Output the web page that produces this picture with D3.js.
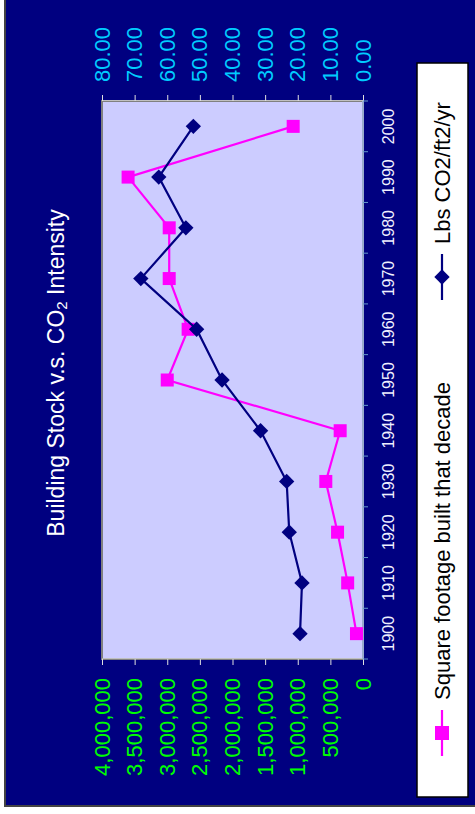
<!DOCTYPE html>
<html>
<head>
<meta charset="utf-8">
<script src="https://cdn.jsdelivr.net/npm/d3@7"></script>
<style>
  html, body { margin: 0; padding: 0; background: #fff; }
  svg { display: block; font-family: "Liberation Sans", Arial, sans-serif; }
</style>
</head>
<body>
<svg id="chart" width="475" height="814"></svg>
<script>
// data
var years = [1900, 1910, 1920, 1930, 1940, 1950, 1960, 1970, 1980, 1990, 2000];
var sqft = [100000, 235000, 390000, 570000, 350000, 3000000, 2680000, 2970000, 2970000, 3600000, 1070000];
var co2 = [19.3, 18.7, 22.6, 23.4, 31.4, 43.2, 51.0, 68.1, 54.3, 62.6, 52.0];
var sqftTicks = [0, 500000, 1000000, 1500000, 2000000, 2500000, 3000000, 3500000, 4000000];
var co2Ticks = [0, 10, 20, 30, 40, 50, 60, 70, 80];

var W = 814, H = 475;
var svg = d3.select("#chart");

// the whole chart is turned on its side
var g = svg.append("g").attr("transform", "translate(0," + W + ") rotate(-90)");

// chart background
g.append("rect")
    .attr("x", 8).attr("y", 5)
    .attr("width", W).attr("height", H)
    .attr("fill", "#000080")
    .attr("stroke", "#444").attr("stroke-width", 2);

var plot = {left: 155, right: 713, top: 102, bottom: 363};

var x = d3.scaleBand().domain(years).range([plot.left, plot.right]);
var y1 = d3.scaleLinear().domain([0, 4000000]).range([plot.bottom, plot.top]);
var y2 = d3.scaleLinear().domain([0, 80]).range([plot.bottom, plot.top]);

// plot area
g.append("rect")
    .attr("x", plot.left).attr("y", plot.top)
    .attr("width", plot.right - plot.left).attr("height", plot.bottom - plot.top)
    .attr("fill", "#CCCCFF")
    .attr("stroke", "#808080").attr("stroke-width", 2);

// left axis (square footage)
var axL = g.append("g")
    .attr("transform", "translate(" + plot.left + ",0)")
    .call(d3.axisLeft(y1).tickValues(sqftTicks).tickSize(6).tickPadding(13).tickFormat(d3.format(",")));
axL.select(".domain").attr("stroke", "#C0C0C0");
axL.selectAll(".tick line").attr("stroke", "#E0E0E0");
axL.selectAll("text").attr("fill", "#00FF00").style("font-size", "22px");

// right axis (CO2)
var axR = g.append("g")
    .attr("transform", "translate(" + plot.right + ",0)")
    .call(d3.axisRight(y2).tickValues(co2Ticks).tickSize(6).tickPadding(13).tickFormat(d3.format(".2f")));
axR.select(".domain").attr("stroke", "#C0C0C0");
axR.selectAll(".tick line").attr("stroke", "#E0E0E0");
axR.selectAll("text").attr("fill", "#00CCFF").style("font-size", "22px");

// category axis
g.append("line")
    .attr("x1", plot.left).attr("x2", plot.right)
    .attr("y1", plot.bottom).attr("y2", plot.bottom)
    .attr("stroke", "#99AACC").attr("stroke-width", 2);
var edges = years.map(function (d) { return x(d); }).concat([x(years[years.length - 1]) + x.bandwidth()]);
g.selectAll(".ctick").data(edges).enter().append("line")
    .attr("x1", function (d) { return d; }).attr("x2", function (d) { return d; })
    .attr("y1", plot.bottom).attr("y2", plot.bottom + 5)
    .attr("stroke", "#6699CC");
g.selectAll(".clabel").data(years).enter().append("text")
    .attr("x", function (d) { return x(d) + x.bandwidth() / 2; })
    .attr("y", 388)
    .attr("text-anchor", "middle")
    .attr("dominant-baseline", "central")
    .attr("fill", "#F0F0FF")
    .style("font-size", "16px")
    .text(function (d) { return d; });

// series lines
var lineSq = d3.line()
    .x(function (d, i) { return x(years[i]) + x.bandwidth() / 2; })
    .y(function (d) { return y1(d); });
var lineCo = d3.line()
    .x(function (d, i) { return x(years[i]) + x.bandwidth() / 2; })
    .y(function (d) { return y2(d); });

g.append("path").datum(sqft).attr("d", lineSq)
    .attr("fill", "none").attr("stroke", "#FF00FF").attr("stroke-width", 2.2);
g.selectAll(".sq").data(sqft).enter().append("rect")
    .attr("x", function (d, i) { return x(years[i]) + x.bandwidth() / 2 - 6.5; })
    .attr("y", function (d) { return y1(d) - 6.5; })
    .attr("width", 13).attr("height", 13)
    .attr("fill", "#FF00FF");

g.append("path").datum(co2).attr("d", lineCo)
    .attr("fill", "none").attr("stroke", "#000080").attr("stroke-width", 2.2);
var diamond = d3.symbol().type(d3.symbolDiamond2).size(150);
g.selectAll(".dm").data(co2).enter().append("path")
    .attr("d", diamond)
    .attr("transform", function (d, i) {
        return "translate(" + (x(years[i]) + x.bandwidth() / 2) + "," + y2(d) + ")";
    })
    .attr("fill", "#000080");

// title
var title = g.append("text")
    .attr("x", W - 373).attr("y", 56)
    .attr("text-anchor", "middle")
    .attr("dominant-baseline", "central")
    .attr("fill", "#FFFFFF")
    .style("font-size", "23px");
title.append("tspan").text("Building Stock v.s. CO");
title.append("tspan").attr("dy", 5).style("font-size", "15px").text("2");
title.append("tspan").attr("dy", -5).text(" Intensity");

// legend
g.append("rect")
    .attr("x", W - 797).attr("y", 417)
    .attr("width", 797 - 63).attr("height", 51)
    .attr("fill", "#FFFFFF")
    .attr("stroke", "#000").attr("stroke-width", 1.5);

var legendItems = [
    {label: "Square footage built that decade", color: "#FF00FF", shape: "square", u: W - 733},
    {label: "Lbs CO2/ft2/yr", color: "#000080", shape: "diamond", u: W - 277}
];
legendItems.forEach(function (it) {
    var lg = g.append("g").attr("transform", "translate(" + it.u + ",442)");
    lg.append("line").attr("x1", -23).attr("x2", 23)
        .attr("stroke", it.color).attr("stroke-width", 2.2);
    if (it.shape === "square") {
        lg.append("rect").attr("x", -7).attr("y", -7).attr("width", 14).attr("height", 14)
            .attr("fill", it.color);
    } else {
        lg.append("path").attr("d", diamond).attr("fill", it.color);
    }
    lg.append("text")
        .attr("x", 33).attr("y", 0)
        .attr("dominant-baseline", "central")
        .attr("fill", "#000")
        .style("font-size", "22px")
        .text(it.label);
});
</script>
</body>
</html>
